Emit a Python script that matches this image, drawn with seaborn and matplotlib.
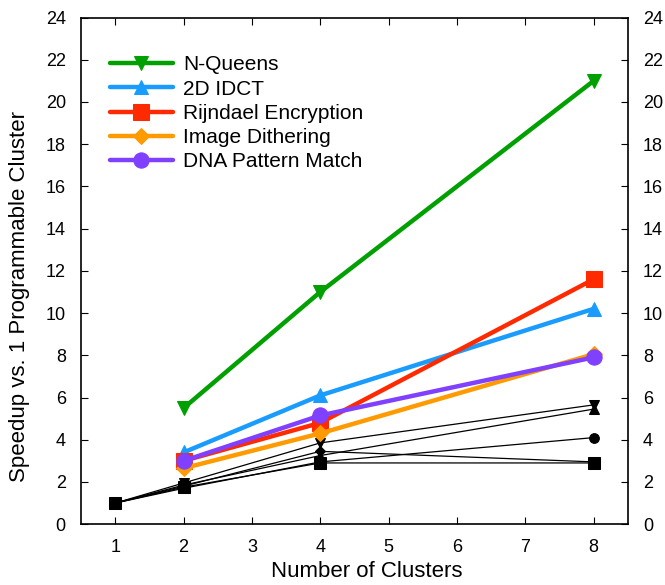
import pandas as pd
import matplotlib
matplotlib.use("Agg")
import matplotlib.pyplot as plt
import seaborn as sns

clusters = [1, 2, 4, 8]

# highlighted benchmarks
series_names = ["N-Queens", "2D IDCT", "Rijndael Encryption", "Image Dithering", "DNA Pattern Match"]
nqueens = [None, 5.5, 11.0, 21.0]
idct = [None, 3.4, 6.1, 10.2]
rijndael = [None, 3.0, 4.8, 11.6]
dithering = [None, 2.65, 4.3, 8.05]
dna = [None, 3.0, 5.15, 7.9]

# other benchmarks (thin black lines)
other_a = [1.0, 1.95, 3.85, 5.65]
other_b = [1.0, 1.85, 3.25, 5.45]
other_c = [1.0, 1.7, 2.95, 4.1]
other_d = [1.0, 1.8, 3.45, 2.95]
other_e = [1.0, 1.75, 2.9, 2.9]

colors = ["#00a000", "#1a9cff", "#ff2a00", "#ff9a00", "#8040ff"]
markers = ["v", "^", "s", "D", "o"]
msizes = [10, 10, 11, 8, 11]

sns.set_style("ticks")
plt.rcParams["font.family"] = ["Liberation Sans", "DejaVu Sans"]
plt.rcParams["xtick.direction"] = "in"
plt.rcParams["ytick.direction"] = "in"
for key in ["text.color", "axes.labelcolor", "xtick.color", "ytick.color", "axes.edgecolor"]:
    plt.rcParams[key] = "black"

fig = plt.figure(figsize=(6.65, 5.85), dpi=100)
ax = fig.add_axes([0.122, 0.104, 0.822, 0.866])

for vals, m, ms in zip([other_a, other_b, other_c, other_d, other_e],
                       ["v", "^", "o", "D", "s"], [7, 7, 7, 5, 8]):
    sns.lineplot(x=clusters, y=vals, ax=ax, color="black", linewidth=0.9,
                 marker=m, markersize=ms, markeredgecolor="black")

for name, vals, c, m, ms in zip(series_names, [nqueens, idct, rijndael, dithering, dna],
                                colors, markers, msizes):
    df = pd.DataFrame({"x": clusters, "y": vals}).dropna()
    sns.lineplot(data=df, x="x", y="y", ax=ax, color=c, linewidth=3.2, marker=m,
                 markersize=ms, markeredgecolor=c, label=name)

ax.set_xlim(0.5, 8.5)
ax.set_ylim(0, 24)
ax.set_xticks(range(1, 9))
ax.set_yticks(range(0, 25, 2))
ax.tick_params(axis="both", labelsize=13, length=5, top=True, right=True, labelright=True)
ax.tick_params(axis="x", pad=11)
ax.tick_params(axis="y", pad=11)
ax.set_xlabel("Number of Clusters", fontsize=16)
ax.set_ylabel("Speedup vs. 1 Programmable Cluster", fontsize=16)
ax.xaxis.set_label_coords(0.523, -0.072)
ax.yaxis.set_label_coords(-0.094, 0.45)
for s in ax.spines.values():
    s.set_linewidth(1.2)

ax.legend(loc="upper left", bbox_to_anchor=(0.03, 0.95), frameon=False, fontsize=15,
          handlelength=3.0, labelspacing=0.25, handletextpad=0.5, borderaxespad=0.2)

fig.savefig("out.png", dpi=100)
